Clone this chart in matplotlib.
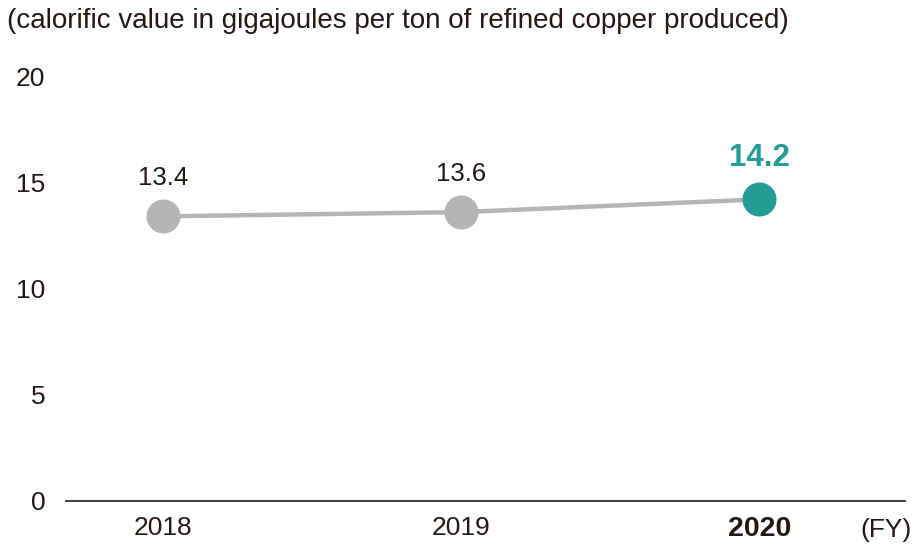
import matplotlib
matplotlib.use("Agg")
import matplotlib.pyplot as plt

years = ["2018", "2019", "2020"]
values = [13.4, 13.6, 14.2]
value_labels = ["13.4", "13.6", "14.2"]
yticks = [0, 5, 10, 15, 20]

plt.rcParams['font.family'] = ['Liberation Sans', 'DejaVu Sans']
TXT = "#231815"
GREY = "#b5b5b5"
TEAL = "#249c96"

fig = plt.figure(figsize=(9.2, 5.52), dpi=100)
ax = fig.add_axes([0.0717, 0.0924, 0.9123, 0.7696])
x = list(range(len(years)))
ax.plot(x, values, color=GREY, lw=3.2, zorder=1, solid_capstyle='butt')
colors = [GREY, GREY, TEAL]
for xi, v, c, lab in zip(x, values, colors, value_labels):
    ax.plot(xi, v, 'o', ms=24.5, color=c, mec='none', zorder=2)
    last = xi == len(years) - 1
    ax.annotate(lab, (xi, v), xytext=(0, 19), textcoords='offset points',
                ha='center', va='bottom', fontsize=22.5 if last else 18.5,
                color=TEAL if last else TXT,
                fontweight='bold' if last else 'normal')
ax.set_xlim(-0.3255, 2.49)
ax.set_ylim(0, 20)
ax.set_yticks(yticks)
ax.set_yticklabels([str(t) for t in yticks], fontsize=19, color=TXT)
ax.set_xticks(x)
ax.set_xticklabels(years, fontsize=19, color=TXT)
for lbl in ax.get_xticklabels()[-1:]:
    lbl.set_fontweight('bold')
    lbl.set_fontsize(20.5)
ax.tick_params(axis='both', length=0)
ax.tick_params(axis='y', pad=15)
ax.tick_params(axis='x', pad=11)
for s in ['top', 'right', 'left']:
    ax.spines[s].set_visible(False)
ax.spines['bottom'].set_color(TXT)
ax.spines['bottom'].set_linewidth(1.2)
fig.text(0.991, 0.0924 - 0.0525, "(FY)", ha='right', va='center', fontsize=19, color=TXT)
fig.text(0.008, 0.962, "(calorific value in gigajoules per ton of refined copper produced)",
         ha='left', va='center', fontsize=20, color=TXT)
fig.savefig("out.png", dpi=100)
